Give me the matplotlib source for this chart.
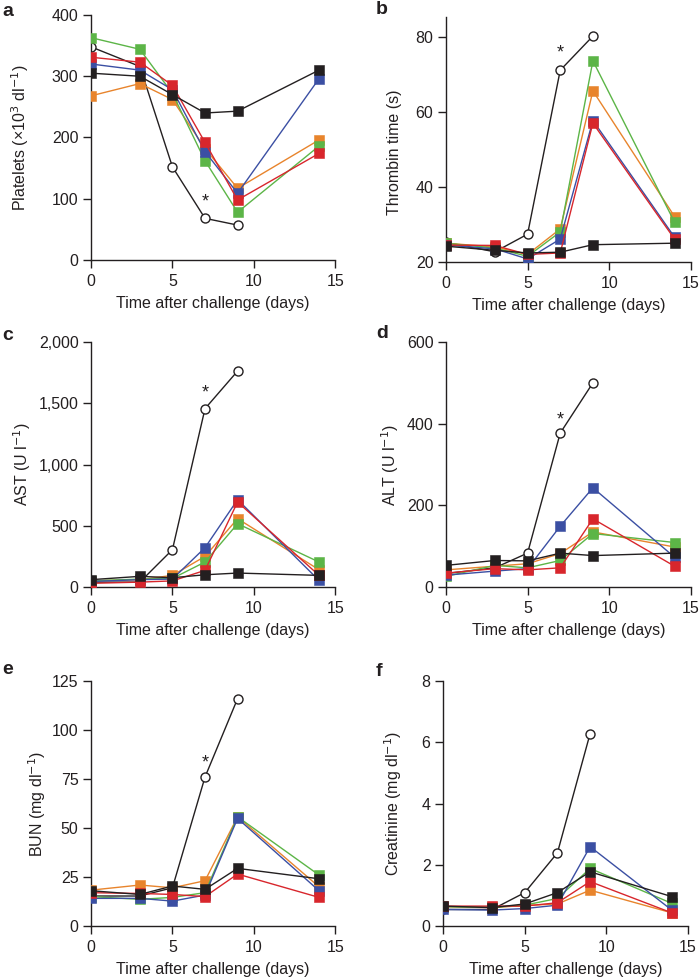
import matplotlib.pyplot as plt

plt.rcParams['font.family'] = ['Liberation Sans', 'DejaVu Sans']

days = [0, 3, 5, 7, 9, 14]
days_circle = [0, 3, 5, 7, 9]

colors = {'orange': '#e8842c', 'green': '#5cb547', 'blue': '#3b4fa3',
          'red': '#d8262c', 'black': '#231f20'}

# panel a: platelets
plt_circle = [348, 316, 152, 68, 57]
plt_green = [363, 344, 272, 162, 78, 186]
plt_orange = [268, 288, 262, 182, 117, 196]
plt_blue = [320, 310, 278, 177, 109, 296]
plt_red = [331, 323, 285, 192, 98, 174]
plt_black = [305, 300, 270, 240, 243, 310]

# panel b: thrombin time
tt_circle = [25.2, 22.7, 27.4, 71.1, 80.2]
tt_green = [25.0, 23.7, 21.5, 28.0, 73.6, 30.6]
tt_orange = [25.0, 24.0, 22.0, 28.8, 65.6, 32.1]
tt_blue = [24.5, 23.5, 20.8, 26.1, 57.7, 26.6]
tt_red = [24.5, 24.4, 22.0, 22.4, 57.0, 26.1]
tt_black = [24.2, 23.1, 22.4, 22.6, 24.6, 25.0]

# panel c: AST
ast_circle = [40, 40, 305, 1456, 1763]
ast_green = [50, 65, 70, 204, 517, 204]
ast_orange = [50, 60, 95, 250, 558, 141]
ast_blue = [45, 60, 65, 321, 713, 54]
ast_red = [30, 40, 50, 136, 694, 95]
ast_black = [60, 87, 76, 100, 114, 95]

# panel d: ALT
alt_circle = [33, 47, 83, 377, 500]
alt_green = [26, 53, 47, 65, 131, 109]
alt_orange = [42, 51, 57, 82, 135, 98]
alt_blue = [29, 39, 45, 149, 243, 73]
alt_red = [34, 45, 42, 47, 167, 51]
alt_black = [53, 65, 64, 83, 77, 83]

# panel e: BUN
bun_circle = [15.3, 15.3, 19.5, 76, 116]
bun_green = [15.0, 13.6, 14.6, 17.0, 55.7, 26.0]
bun_orange = [18.3, 20.9, 19.5, 23.1, 55.7, 20.0]
bun_blue = [14.1, 14.1, 12.7, 15.8, 54.9, 18.0]
bun_red = [17.0, 16.6, 16.1, 15.0, 26.5, 14.6]
bun_black = [18.0, 16.1, 20.4, 18.7, 29.4, 24.1]

# panel f: creatinine
cre_circle = [0.54, 0.54, 1.09, 2.39, 6.28]
cre_green = [0.63, 0.61, 0.68, 0.90, 1.88, 0.74]
cre_orange = [0.63, 0.60, 0.67, 0.72, 1.17, 0.43]
cre_blue = [0.54, 0.52, 0.57, 0.68, 2.59, 0.52]
cre_red = [0.65, 0.65, 0.65, 0.76, 1.45, 0.43]
cre_black = [0.65, 0.60, 0.72, 1.09, 1.77, 0.96]

panels = [
    ('a', 'Platelets (×10$^{3}$ dl$^{-1}$)', (0, 400), [0, 100, 200, 300, 400], ['0', '100', '200', '300', '400'],
     plt_circle, plt_green, plt_orange, plt_blue, plt_red, plt_black, 95),
    ('b', 'Thrombin time (s)', (20, 85.3), [20, 40, 60, 80], ['20', '40', '60', '80'],
     tt_circle, tt_green, tt_orange, tt_blue, tt_red, tt_black, 75.6),
    ('c', 'AST (U l$^{-1}$)', (0, 2000), [0, 500, 1000, 1500, 2000], ['0', '500', '1,000', '1,500', '2,000'],
     ast_circle, ast_green, ast_orange, ast_blue, ast_red, ast_black, 1584),
    ('d', 'ALT (U l$^{-1}$)', (0, 600), [0, 200, 400, 600], ['0', '200', '400', '600'],
     alt_circle, alt_green, alt_orange, alt_blue, alt_red, alt_black, 410),
    ('e', 'BUN (mg dl$^{-1}$)', (0, 125), [0, 25, 50, 75, 100, 125], ['0', '25', '50', '75', '100', '125'],
     bun_circle, bun_green, bun_orange, bun_blue, bun_red, bun_black, 83),
    ('f', 'Creatinine (mg dl$^{-1}$)', (0, 8), [0, 2, 4, 6, 8], ['0', '2', '4', '6', '8'],
     cre_circle, cre_green, cre_orange, cre_blue, cre_red, cre_black, None),
]

# axes rectangles, y-label x/y (axes coords), panel letter (pixels)
positions = [
    [0.130, 0.7347, 0.349, 0.25],
    [0.637, 0.7327, 0.350, 0.25],
    [0.130, 0.401, 0.349, 0.25],
    [0.637, 0.401, 0.350, 0.25],
    [0.130, 0.0551, 0.349, 0.25],
    [0.633, 0.0551, 0.350, 0.25],
]
ylabel_xy = [(-0.291, 0.5), (-0.209, 0.449), (-0.283, 0.5),
             (-0.229, 0.5), (-0.221, 0.5), (-0.204, 0.5)]
letter_px = [(2, 11), (376, 10), (2, 335), (376, 333), (2, 670), (376, 672)]

W, H = 700, 980
fig = plt.figure(figsize=(7, 9.8), dpi=100)
fs = 11.5

for (letter, ylabel, ylim, yticks, yticklabels, circ, g, o, b, r, k, star), pos, ylxy, lp in zip(
        panels, positions, ylabel_xy, letter_px):
    ax = fig.add_axes(pos)
    ax.plot(days_circle, circ, color=colors['black'], lw=1.0, marker='o', ms=6.5,
            mfc='white', mec=colors['black'], mew=1.0, zorder=2)
    for vals, c in [(o, 'orange'), (g, 'green'), (b, 'blue'), (r, 'red'), (k, 'black')]:
        ax.plot(days, vals, color=colors[c], lw=1.0, marker='s', ms=7.5,
                mfc=colors[c], mec=colors[c], mew=0.4, zorder=3)
    if star is not None:
        ax.text(7.0, star, '*', ha='center', va='center', fontsize=13, color='#231f20')
    ax.set_xlim(0, 15)
    ax.set_ylim(*ylim)
    ax.set_xticks([0, 5, 10, 15])
    ax.set_yticks(yticks)
    ax.set_yticklabels(yticklabels)
    ax.spines['top'].set_visible(False)
    ax.spines['right'].set_visible(False)
    for s in ['left', 'bottom']:
        ax.spines[s].set_linewidth(1.0)
        ax.spines[s].set_color('#231f20')
    ax.tick_params(axis='x', direction='out', length=6, width=1.0, labelsize=fs, colors='#231f20', pad=4)
    ax.tick_params(axis='y', direction='out', length=6, width=1.0, labelsize=fs, colors='#231f20', pad=3)
    ax.set_xlabel('Time after challenge (days)', fontsize=fs, color='#231f20')
    ax.xaxis.set_label_coords(0.5, -0.148)
    ax.set_ylabel(ylabel, fontsize=fs, color='#231f20', va='center')
    ax.yaxis.set_label_coords(*ylxy)
    fig.text(lp[0] / W, 1 - lp[1] / H, letter, fontsize=14, fontweight='bold',
             ha='left', va='center', color='#231f20')

fig.savefig('out.png', dpi=100)
